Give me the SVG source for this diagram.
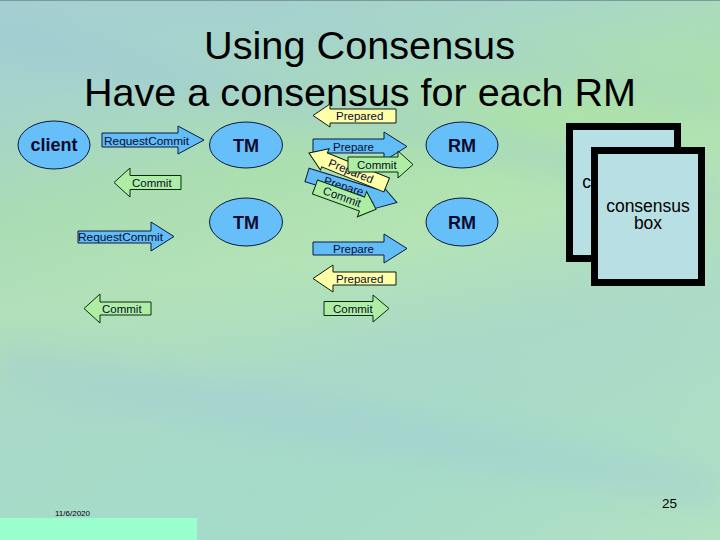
<svg xmlns="http://www.w3.org/2000/svg" width="720" height="540" viewBox="0 0 720 540">
<defs>
<linearGradient id="bg" x1="0" y1="0" x2="0.25" y2="1">
<stop offset="0" stop-color="#a6d2d0"/>
<stop offset="0.18" stop-color="#a8d8c6"/>
<stop offset="0.38" stop-color="#ade2aa"/>
<stop offset="0.55" stop-color="#b4e4b4"/>
<stop offset="0.75" stop-color="#aadac8"/>
<stop offset="1" stop-color="#a4dcc8"/>
</linearGradient>
<linearGradient id="streak" x1="0" y1="0" x2="1" y2="1">
<stop offset="0" stop-color="#a0cad6" stop-opacity="0.4"/>
<stop offset="0.5" stop-color="#a0cad6" stop-opacity="0"/>
<stop offset="1" stop-color="#c8ecb8" stop-opacity="0.4"/>
</linearGradient>
<filter id="soft" x="-10%" y="-50%" width="120%" height="200%"><feGaussianBlur stdDeviation="14"/></filter>
<style>
.node{fill:#66bff8;stroke:#0a1a40;stroke-width:1}
.nt{font-family:"Liberation Sans",Arial,sans-serif;font-size:18px;font-weight:bold;fill:#0a0a30;text-anchor:middle}
.blue{fill:#62bcf6;stroke:#0a1a40;stroke-width:1}
.yel{fill:#ffffa8;stroke:#0a1a10;stroke-width:1}
.grn{fill:#aeeea4;stroke:#0a2a10;stroke-width:1}
.lab{font-family:"Liberation Sans",Arial,sans-serif;font-size:11.5px;fill:#0a0a30}
.box{fill:#b8e0e4;stroke:#000;stroke-width:7}
.bt{font-family:"Liberation Sans",Arial,sans-serif;font-size:17.5px;fill:#000;text-anchor:middle}
.title{font-family:"Liberation Sans",Arial,sans-serif;font-size:39px;fill:#000}
</style>
</defs>
<rect x="0" y="0" width="720" height="540" fill="url(#bg)"/>
<rect x="0" y="0" width="720" height="540" fill="url(#streak)"/>
<g opacity="0.3" fill="#9cc6da" filter="url(#soft)">
<path d="M0,20 L720,180 L720,210 L0,60 Z"/>
<path d="M0,340 L720,470 L720,510 L0,390 Z"/>
<path d="M200,0 L720,90 L720,110 L150,0 Z"/>
</g>
<line x1="0" y1="0.5" x2="720" y2="0.5" stroke="#7a9a9a" stroke-width="1"/>

<g id="title">
<text class="title" x="204" y="59" textLength="311" lengthAdjust="spacingAndGlyphs">Using Consensus</text>
<text class="title" x="84" y="106" textLength="552" lengthAdjust="spacingAndGlyphs">Have a consensus for each RM</text>
</g>

<g id="client"><ellipse class="node" cx="54" cy="145" rx="36" ry="24"/><text class="nt" x="54" y="151" font-size="17px">client</text></g>
<g id="tm1"><ellipse class="node" cx="246" cy="145" rx="36.5" ry="23"/><text class="nt" x="246" y="151.5">TM</text></g>
<g id="tm2"><ellipse class="node" cx="246" cy="222" rx="36.5" ry="24"/><text class="nt" x="246" y="228.5">TM</text></g>
<g id="rm1"><ellipse class="node" cx="462" cy="145" rx="36" ry="23"/><text class="nt" x="462" y="151.5">RM</text></g>
<g id="rm2"><ellipse class="node" cx="462" cy="222" rx="36" ry="24"/><text class="nt" x="462" y="228.5">RM</text></g>

<g id="connectors">
<g id="a1"><path class="blue" d="M102,133 H178 V126 L204,140 L178,154 V147 H102 Z"/><text class="lab" x="104" y="145" textLength="85" lengthAdjust="spacingAndGlyphs">RequestCommit</text></g>
<g id="a2"><path class="grn" d="M114,182.5 L130,168 V175.5 H181 V189.5 H130 V197 Z"/><text class="lab" x="132" y="187">Commit</text></g>
<g id="a3"><path class="blue" d="M78,231 H151 V222 L174,236.5 L151,251 V243 H78 Z"/><text class="lab" x="78" y="241" textLength="85" lengthAdjust="spacingAndGlyphs">RequestCommit</text></g>
<g id="a4"><path class="grn" d="M84,308.5 L100,294 V302 H151 V315 H100 V323 Z"/><text class="lab" x="102" y="312.5">Commit</text></g>

<g id="a5"><path class="yel" d="M313,115.5 L330,104 V109 H396 V123 H330 V127 Z"/><text class="lab" x="336" y="120">Prepared</text></g>
<g id="a6"><path class="blue" d="M313,139 H384 V132 L407,146.5 L384,161 V153 H313 Z"/><text class="lab" x="333" y="150.5">Prepare</text></g>
<g id="a7" transform="translate(307,175) rotate(17)"><path class="blue" d="M0,-7 H71 V-14.5 L94,0 L71,14.5 V7 H0 Z"/><text class="lab" x="18" y="4">Prepare</text></g>
<g id="a8" transform="translate(315,187) rotate(20)"><path class="grn" d="M0,-7.5 H50 V-13.5 L65,0 L50,13.5 V7.5 H0 Z"/><text class="lab" x="9" y="4">Commit</text></g>
<g id="a9" transform="translate(309,153) rotate(22)"><path class="yel" d="M0,0 L17,-11.5 V-7 H84 V8 H17 V11.5 Z"/><text class="lab" x="22" y="5">Prepared</text></g>
<g id="a10"><path class="grn" d="M348,157 H398 V151 L413,164.5 L398,178 V172 H348 Z"/><text class="lab" x="357" y="168.5">Commit</text></g>

<g id="a11"><path class="blue" d="M313,242 H384 V234 L407,248.5 L384,263 V255 H313 Z"/><text class="lab" x="333" y="252.5">Prepare</text></g>
<g id="a12"><path class="yel" d="M313,278.5 L333,265 V272 H396 V285 H333 V292 Z"/><text class="lab" x="336" y="283">Prepared</text></g>
<g id="a13"><path class="grn" d="M324,301.5 H373 V295 L389,308.5 L373,322 V315.5 H324 Z"/><text class="lab" x="333" y="313">Commit</text></g>
</g>

<g id="consensus-back"><rect class="box" x="569.5" y="126.5" width="108" height="132"/><text class="bt" x="624" y="188">consensus</text><text class="bt" x="624" y="205">box</text></g>
<g id="consensus-front"><rect class="box" x="594.5" y="150.5" width="107" height="132"/><text class="bt" x="648" y="212">consensus</text><text class="bt" x="648" y="229">box</text></g>

<g id="footer">
<rect x="0" y="518" width="197" height="22" fill="#99ffcc"/>
<text x="55" y="515.5" font-family="Liberation Sans, Arial, sans-serif" font-size="8px" fill="#000">11/6/2020</text>
<text x="662" y="508" font-family="Liberation Sans, Arial, sans-serif" font-size="13.5px" fill="#000">25</text>
</g>
</svg>
